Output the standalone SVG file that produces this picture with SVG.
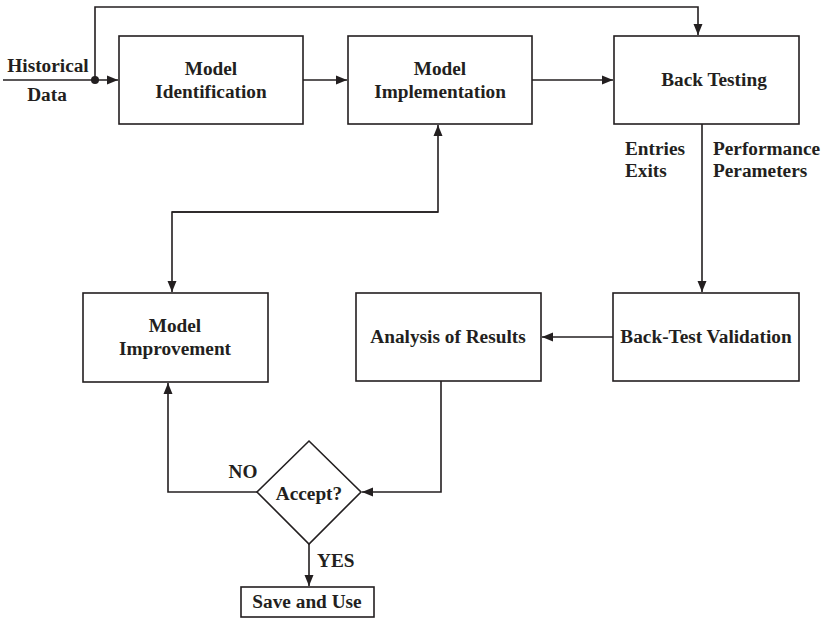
<svg xmlns="http://www.w3.org/2000/svg" width="823" height="618" viewBox="0 0 823 618">
<style>
.box{fill:#fff;stroke:#231f20;stroke-width:1.6}
.ln{fill:none;stroke:#231f20;stroke-width:1.6}
.arr{marker-end:url(#ah)}
text{font-family:"Liberation Serif","Times New Roman",serif;font-weight:bold;font-size:19.3px;fill:#231f20;text-anchor:middle}
.l{text-anchor:start}
</style>
<defs>
<marker id="ah" viewBox="0 0 11 10" refX="11" refY="5" markerWidth="11" markerHeight="10" markerUnits="userSpaceOnUse" orient="auto">
<path d="M0,0.5 L11,5 L0,9.5 Z" fill="#231f20"/>
</marker>
</defs>
<rect width="823" height="618" fill="#fff"/>
<g id="connectors">
<line class="ln arr" x1="3" y1="80" x2="118" y2="80"/>
<circle cx="95" cy="80" r="4" fill="#231f20"/>
<polyline class="ln arr" points="95,80 95,7 698,7 698,35"/>
<line class="ln arr" x1="303" y1="80" x2="347" y2="80"/>
<line class="ln arr" x1="532" y1="80" x2="613" y2="80"/>
<line class="ln arr" x1="702" y1="124" x2="702" y2="292"/>
<line class="ln arr" x1="613" y1="337" x2="542" y2="337"/>
<polyline class="ln arr" points="172,212 438,212 438,125"/>
<polyline class="ln arr" points="438,212 172,212 172,292"/>
<polyline class="ln arr" points="257,492 168,492 168,383"/>
<polyline class="ln arr" points="441,381 441,492 362,492"/>
<line class="ln arr" x1="309" y1="544" x2="309" y2="586"/>
</g>
<g id="labels">
<text x="48" y="72">Historical</text>
<text x="47" y="101">Data</text>
<text class="l" x="625" y="155">Entries</text>
<text class="l" x="625" y="177">Exits</text>
<text class="l" x="713" y="155">Performance</text>
<text class="l" x="713" y="177">Perameters</text>
<text x="243" y="478">NO</text>
<text class="l" x="317" y="567">YES</text>
</g>
<g id="model-identification">
<rect class="box" x="119" y="36" width="184" height="88"/>
<text x="211" y="75">Model</text>
<text x="211" y="98">Identification</text>
</g>
<g id="model-implementation">
<rect class="box" x="348" y="36" width="184" height="88"/>
<text x="440" y="75">Model</text>
<text x="440" y="98">Implementation</text>
</g>
<g id="back-testing">
<rect class="box" x="614" y="36" width="185" height="88"/>
<text x="714" y="86">Back Testing</text>
</g>
<g id="back-test-validation">
<rect class="box" x="613" y="293" width="186" height="88"/>
<text x="706" y="343">Back-Test Validation</text>
</g>
<g id="analysis-of-results">
<rect class="box" x="356" y="293" width="185" height="88"/>
<text x="448" y="343">Analysis of Results</text>
</g>
<g id="model-improvement">
<rect class="box" x="83" y="293" width="185" height="89"/>
<text x="175" y="332">Model</text>
<text x="175" y="355">Improvement</text>
</g>
<g id="accept">
<polygon class="box" points="309,441 361,492 309,544 257,492"/>
<text x="309" y="500">Accept?</text>
</g>
<g id="save-and-use">
<rect class="box" x="241" y="587" width="133" height="30"/>
<text x="307" y="608">Save and Use</text>
</g>
</svg>
